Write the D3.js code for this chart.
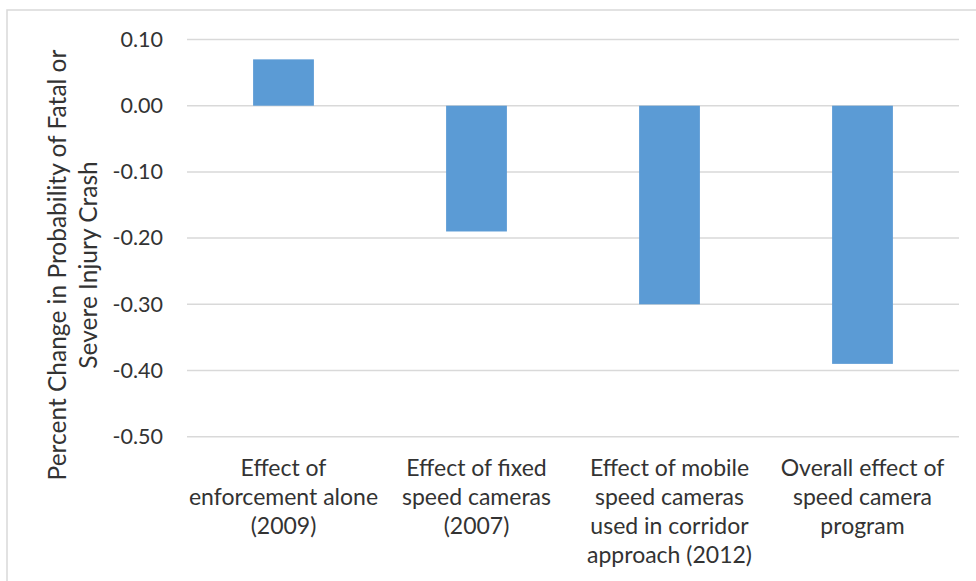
<!DOCTYPE html>
<html>
<head>
<meta charset="utf-8">
<script src="https://cdn.jsdelivr.net/npm/d3@7"></script>
<style>
  html, body { margin: 0; padding: 0; background: #fff; }
  svg { display: block; }
  text { font-family: Lato, "Open Sans", sans-serif; fill: #333; }
</style>
</head>
<body>
<svg id="chart" width="976" height="581"></svg>
<script>
// Categories (multi-line labels) and their values
const categories = [
  ["Effect of", "enforcement alone", "(2009)"],
  ["Effect of fixed", "speed cameras", "(2007)"],
  ["Effect of mobile", "speed cameras", "used in corridor", "approach (2012)"],
  ["Overall effect of", "speed camera", "program"]
];
const values = [0.07, -0.19, -0.30, -0.39];
const yTicks = [0.10, 0.00, -0.10, -0.20, -0.30, -0.40, -0.50];
const yTitle = ["Percent Change in Probability of Fatal or", "Severe Injury Crash"];

const svg = d3.select("#chart");
const W = 976, H = 581;

// chart frame
svg.append("rect")
  .attr("x", 7).attr("y", 10)
  .attr("width", W + 10).attr("height", H + 10)
  .attr("fill", "#fff").attr("stroke", "#d9d9d9").attr("stroke-width", 1.5);

const plot = { left: 187, right: 959, top: 39.5, bottom: 436.7 };

const x = d3.scaleBand()
  .domain(d3.range(categories.length))
  .range([plot.left, plot.right])
  .paddingInner(0.685).paddingOuter(0.3425);

const y = d3.scaleLinear().domain([-0.5, 0.1]).range([plot.bottom, plot.top]);

// gridlines
svg.append("g").selectAll("line").data(yTicks).join("line")
  .attr("x1", plot.left).attr("x2", plot.right)
  .attr("y1", d => y(d)).attr("y2", d => y(d))
  .attr("stroke", "#d9d9d9").attr("stroke-width", 1.5);

// y-axis tick labels (plain hyphen for negatives)
const fmt = d3.format(".2f");
const yAxis = d3.axisLeft(y).tickValues(yTicks)
  .tickFormat(d => fmt(d).replace("\u2212", "-"))
  .tickSize(0).tickPadding(0);
const gy = svg.append("g").attr("transform", `translate(163,0)`).call(yAxis);
gy.select(".domain").remove();
gy.selectAll("text")
  .attr("font-family", "Lato, 'Open Sans', sans-serif")
  .attr("font-size", 21.5).attr("fill", "#333");

// bars
svg.append("g").selectAll("rect").data(values).join("rect")
  .attr("x", (d, i) => x(i))
  .attr("width", x.bandwidth())
  .attr("y", d => y(Math.max(0, d)))
  .attr("height", d => Math.abs(y(d) - y(0)))
  .attr("fill", "#5b9bd5");

// category labels
const lineH = 29;
const cat = svg.append("g").selectAll("text").data(categories).join("text")
  .attr("text-anchor", "middle")
  .attr("font-size", 23);
cat.each(function(lines, i) {
  d3.select(this).selectAll("tspan").data(lines).join("tspan")
    .attr("x", x(i) + x.bandwidth() / 2)
    .attr("y", (d, k) => 476 + k * lineH)
    .text(d => d);
});

// y-axis title
const title = svg.append("text")
  .attr("transform", "translate(0,265) rotate(-90)")
  .attr("text-anchor", "middle")
  .attr("font-size", 24.5);
title.selectAll("tspan").data(yTitle).join("tspan")
  .attr("x", 0)
  .attr("y", (d, k) => 66 + k * 31)
  .text(d => d);
</script>
</body>
</html>
